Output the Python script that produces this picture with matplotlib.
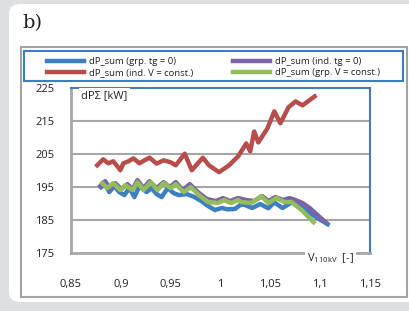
import numpy as np
import matplotlib
matplotlib.use("Agg")
import matplotlib.pyplot as plt
from matplotlib.patches import FancyBboxPatch, Rectangle

plt.rcParams['font.family'] = ['Open Sans', 'DejaVu Sans']

# --- data ---
red_v = [0.8763, 0.8823, 0.8874, 0.8924, 0.8965, 0.8995, 0.9025, 0.9076, 0.9126, 0.9187,
         0.9237, 0.9288, 0.9359, 0.9429, 0.9500, 0.9551, 0.9641, 0.9712, 0.9823, 0.9884,
         0.9985, 1.0086, 1.0177, 1.0258, 1.0298, 1.0338, 1.0379, 1.0470, 1.0540, 1.0601,
         1.0682, 1.0753, 1.0823, 1.0944]
red_p = [201.5, 203.3, 202.1, 202.7, 201.2, 200.0, 202.1, 202.7, 203.6, 202.1,
         203.0, 203.8, 202.0, 203.0, 202.4, 201.5, 205.0, 200.0, 203.8, 201.5,
         199.4, 201.5, 204.2, 208.1, 205.7, 211.7, 208.4, 212.6, 217.8, 214.2,
         219.0, 220.8, 219.6, 222.3]

blue_v = [0.8803, 0.8843, 0.8884, 0.8934, 0.8985, 0.9035, 0.9086, 0.9136, 0.9187, 0.9258,
          0.9308, 0.9359, 0.9409, 0.9470, 0.9530, 0.9581, 0.9662, 0.9732, 0.9813, 0.9864,
          0.9944, 1.0015, 1.0066, 1.0146, 1.0197, 1.0237, 1.0318, 1.0399, 1.0480, 1.0540,
          1.0621, 1.0722, 1.0783, 1.0853, 1.0944, 1.1075]
blue_p = [194.9, 195.8, 193.4, 195.2, 193.4, 192.5, 194.6, 191.9, 195.2, 193.4,
          194.6, 192.8, 191.9, 194.6, 193.1, 192.5, 192.8, 192.0, 190.6, 189.4,
          188.0, 188.6, 188.2, 188.3, 189.5, 189.6, 188.6, 189.8, 188.5, 190.3,
          188.6, 190.4, 189.5, 188.0, 186.1, 183.7]

purple_v = [0.8793, 0.8843, 0.8894, 0.8944, 0.9005, 0.9066, 0.9116, 0.9167, 0.9227, 0.9288,
            0.9359, 0.9429, 0.9490, 0.9551, 0.9621, 0.9692, 0.9773, 0.9864, 0.9955, 1.0025,
            1.0096, 1.0177, 1.0258, 1.0338, 1.0419, 1.0480, 1.0551, 1.0631, 1.0692, 1.0753,
            1.0823, 1.0894, 1.0975, 1.1055]
purple_p = [195.2, 196.7, 194.3, 196.1, 194.3, 195.8, 194.3, 197.0, 194.6, 196.7,
            194.6, 196.4, 194.9, 196.4, 194.0, 195.8, 193.4, 191.3, 190.7, 191.6,
            190.7, 191.6, 191.0, 190.7, 192.2, 190.7, 191.9, 191.0, 191.6, 191.0,
            190.1, 188.6, 186.4, 184.3]

green_v = [0.8813, 0.8864, 0.8924, 0.8995, 0.9045, 0.9116, 0.9167, 0.9227, 0.9298, 0.9369,
           0.9429, 0.9500, 0.9551, 0.9631, 0.9702, 0.9783, 0.9874, 0.9975, 1.0035, 1.0106,
           1.0177, 1.0207, 1.0308, 1.0409, 1.0480, 1.0561, 1.0641, 1.0712, 1.0813, 1.0934]
green_p = [196.1, 194.6, 196.1, 194.0, 195.5, 194.0, 196.4, 194.0, 196.4, 194.0,
           196.1, 194.6, 195.8, 193.4, 194.9, 192.5, 190.4, 190.1, 191.0, 190.1,
           191.0, 190.4, 190.1, 192.2, 190.1, 191.6, 190.4, 190.4, 188.0, 184.3]

labels = ["dP_sum (grp. tg = 0)", "dP_sum (ind. V = const.)",
          "dP_sum (ind. tg = 0)", "dP_sum (grp. V = const.)"]
colors = ["#3d7fc4", "#b84d4b", "#7e62a6", "#93bd5b"]

x_ticks = [0.85, 0.9, 0.95, 1.0, 1.05, 1.1, 1.15]
x_ticklabels = ["0,85", "0,9", "0,95", "1", "1,05", "1,1", "1,15"]
y_ticks = [175, 185, 195, 205, 215, 225]

W, H = 410, 311
fig = plt.figure(figsize=(W / 100, H / 100), dpi=100)
fig.patch.set_facecolor("#dedfe0")

# white rounded panel, gray chart frame, blue legend box
fig.patches.append(FancyBboxPatch((9 / W, 1 - 302 / H), 420 / W, 298 / H,
                                  boxstyle="round,pad=0,rounding_size=0.03",
                                  transform=fig.transFigure, facecolor="white",
                                  edgecolor="none", zorder=0))
fig.patches.append(Rectangle((21 / W, 1 - 297 / H), 386 / W, 250 / H,
                             transform=fig.transFigure, facecolor="none",
                             edgecolor="#a3a3a3", lw=1.5, zorder=1))
fig.patches.append(Rectangle((24.5 / W, 1 - 81 / H), 378.5 / W, 30.5 / H,
                             transform=fig.transFigure, facecolor="none",
                             edgecolor="#3d7fc4", lw=1.5, zorder=1))
fig.text(22 / W, 1 - 23 / H, "b)", family="DejaVu Serif", fontsize=14,
         va="center", ha="left", color="#222222")

ax = fig.add_axes([71 / W, 1 - 253 / H, 299 / W, 165.5 / H])
ax.set_zorder(3)
ax.set_facecolor("none")
ax.set_xlim(0.85, 1.15)
ax.set_ylim(175, 225)
ax.set_xticks(x_ticks)
ax.set_xticklabels(x_ticklabels)
ax.set_yticks(y_ticks)
ax.tick_params(length=0, labelsize=8, colors="#222222")
ax.tick_params(axis="x", pad=19)
ax.tick_params(axis="y", pad=12)
for y in y_ticks[1:-1]:
    ax.axhline(y, color="#a6a6a6", lw=1.5, zorder=1)
for s in ["left", "bottom"]:
    ax.spines[s].set_color("#a6a6a6")
    ax.spines[s].set_linewidth(2)
for s in ["top", "right"]:
    ax.spines[s].set_color("#3d7fc4")
    ax.spines[s].set_linewidth(1.5)

lw = 3.2
h_blue, = ax.plot(blue_v, blue_p, color=colors[0], lw=lw, zorder=3, solid_joinstyle="round")
h_red, = ax.plot(red_v, red_p, color=colors[1], lw=lw, zorder=3, solid_joinstyle="round")
h_purple, = ax.plot(purple_v, purple_p, color=colors[2], lw=lw, zorder=4, solid_joinstyle="round")
h_green, = ax.plot(green_v, green_p, color=colors[3], lw=lw, zorder=5, solid_joinstyle="round")

ax.text(0.035, 0.985, "dPΣ [kW]", transform=ax.transAxes, fontsize=8,
        va="top", ha="left", color="#222222", zorder=6,
        bbox=dict(facecolor="white", edgecolor="none", pad=1.5))
ax.text(0.79, -0.03, r"V$_{\mathregular{110kV}}$  [-]", transform=ax.transAxes,
        fontsize=8, va="center", ha="left", color="#222222", zorder=6, clip_on=False,
        bbox=dict(facecolor="white", edgecolor="none", pad=1.5))

leg = fig.legend([h_blue, h_red, h_purple, h_green], labels, ncol=2,
                 bbox_to_anchor=(47 / W, 1 - 67 / H), loc="center left",
                 fontsize=6.8, handlelength=3.9, handletextpad=0.5,
                 borderaxespad=0, borderpad=0, labelspacing=0.25, columnspacing=4.3,
                 frameon=False)
for t in leg.get_texts():
    t.set_color("#222222")

fig.savefig("out.png", dpi=100, facecolor=fig.get_facecolor())
